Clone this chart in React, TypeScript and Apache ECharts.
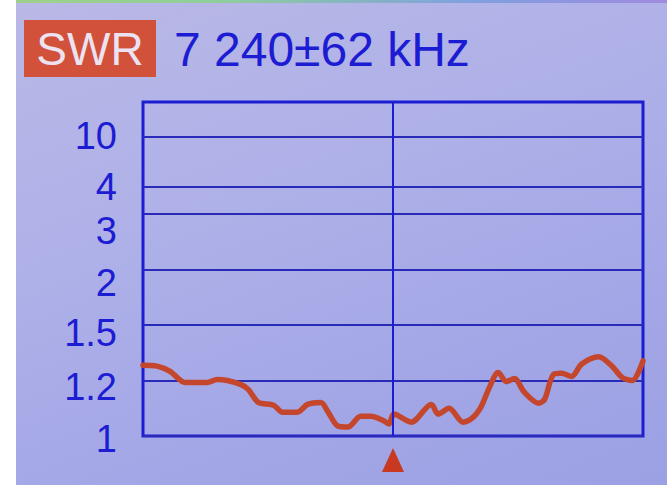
import React, { useEffect, useRef } from "react";
import * as echarts from "echarts";

// Frequency sweep: 7 240 ± 62 kHz
const centerKHz = 7240;
const spanKHz = 62;

// SWR scale of the analyzer (non-linear): tick labels and their level on the screen scale
const swrTicks = [1, 1.2, 1.5, 2, 3, 4, 10];
const swrLevels = [0, 1, 2, 3, 4, 4.5, 5.4];
const scaleTopLevel = 6.02;

// Measured curve
const freqKHz = [
  7178, 7181.5, 7184.7, 7188.5, 7193.9, 7196.4, 7198.9, 7202.2, 7204.1, 7206.6,
  7210.4, 7212.6, 7216.3, 7218.8, 7222.1, 7223.8, 7226.3, 7228.8, 7232.0, 7234.5,
  7237.8, 7239.0, 7240.2, 7244.5, 7249.5, 7251.2, 7253.9, 7257.4, 7259.9, 7261.9,
  7263.7, 7266.1, 7268.1, 7270.1, 7272.6, 7276.1, 7277.6, 7279.8, 7281.8, 7284.3,
  7286.8, 7291.0, 7294.3, 7296.8, 7299.3, 7302,
];
const swrValues = [
  1.283, 1.278, 1.25, 1.193, 1.193, 1.206, 1.2, 1.186, 1.168, 1.121,
  1.111, 1.086, 1.086, 1.114, 1.121, 1.089, 1.036, 1.032, 1.071, 1.071,
  1.054, 1.043, 1.079, 1.05, 1.114, 1.079, 1.1, 1.05, 1.068, 1.107,
  1.168, 1.244, 1.196, 1.211, 1.157, 1.118, 1.132, 1.233, 1.239, 1.222,
  1.289, 1.328, 1.278, 1.217, 1.2, 1.306,
];

const BLUE = "#1c1cd2";
const GRID_BLUE = "#2a2ab8";
const RED = "#c4472d";

// piecewise-linear SWR -> screen level
function swrToLevel(s: number): number {
  for (let i = 0; i < swrTicks.length - 1; i++) {
    if (s <= swrTicks[i + 1]) {
      const t = (s - swrTicks[i]) / (swrTicks[i + 1] - swrTicks[i]);
      return swrLevels[i] + t * (swrLevels[i + 1] - swrLevels[i]);
    }
  }
  return swrLevels[swrLevels.length - 1];
}

export default function App() {
  const ref = useRef<HTMLDivElement>(null);

  useEffect(() => {
    if (!ref.current) return;
    const chart = echarts.init(ref.current, undefined, { renderer: "svg" });
    const data = freqKHz.map((f, i) => [f, swrToLevel(swrValues[i])]);
    const font = '"Liberation Sans Narrow", "Liberation Sans", Arial, sans-serif';

    // the device draws its labels slightly below some grid lines
    const labelDrop = [3, 6, 8, 13, 17, 1, 0];
    const rich: Record<string, any> = {};
    labelDrop.forEach((d, i) => {
      rich["l" + i] = {
        color: BLUE,
        fontSize: 38,
        fontFamily: font,
        lineHeight: 30,
        padding: [2 * d, 0, 0, 0],
      };
    });

    chart.setOption({
      animation: false,
      backgroundColor: "transparent",
      grid: {
        left: 143,
        right: 24,
        top: 102,
        bottom: 49,
        show: true,
        borderColor: BLUE,
        borderWidth: 3,
        backgroundColor: "transparent",
      },
      xAxis: {
        type: "value",
        min: centerKHz - spanKHz,
        max: centerKHz + spanKHz,
        axisLine: { show: false },
        axisTick: { show: false },
        axisLabel: { show: false },
        splitLine: { show: false },
      },
      yAxis: {
        type: "value",
        min: 0,
        max: scaleTopLevel,
        axisLine: { show: false },
        axisTick: { show: false, customValues: swrLevels },
        axisLabel: {
          customValues: swrLevels,
          margin: 26,
          color: BLUE,
          fontSize: 38,
          fontFamily: font,
          rich,
          formatter: (v: number) => {
            const i = swrLevels.findIndex((l) => Math.abs(l - v) < 1e-6);
            return i >= 0 ? "{l" + i + "|" + swrTicks[i] + "}" : "";
          },
        },
        splitLine: { show: true, lineStyle: { color: GRID_BLUE, width: 2 } },
      },
      graphic: [
        {
          type: "rect",
          shape: { x: 24, y: 20, width: 132, height: 57 },
          style: { fill: "#d2513a" },
        },
        {
          type: "text",
          x: 90,
          y: 49,
          style: {
            text: "SWR",
            fill: "#ece2f2",
            fontSize: 46,
            fontFamily: font,
            align: "center",
            verticalAlign: "middle",
          },
        },
        {
          type: "text",
          x: 174,
          y: 49,
          style: {
            text: "7 240±62 kHz",
            fill: BLUE,
            fontSize: 48,
            fontFamily: font,
            align: "left",
            verticalAlign: "middle",
          },
        },
      ],
      series: [
        {
          type: "line",
          data,
          showSymbol: false,
          smooth: 0.3,
          lineStyle: { color: RED, width: 5.5, cap: "round", join: "round" },
          markLine: {
            silent: true,
            symbol: "none",
            label: { show: false },
            lineStyle: { color: BLUE, width: 2, type: "solid" },
            data: [{ xAxis: centerKHz }],
          },
          markPoint: {
            silent: true,
            symbol: "triangle",
            symbolSize: [22, 24],
            symbolOffset: [0, 24],
            itemStyle: { color: "#c8391f" },
            label: { show: false },
            data: [{ coord: [centerKHz, 0] }],
          },
        },
      ],
    });
    return () => chart.dispose();
  }, []);

  return (
    <div style={{ position: "fixed", left: 0, top: 0, width: 667, height: 485, background: "#ffffff" }}>
      <div
        style={{
          position: "absolute",
          left: 16,
          top: 0,
          right: 0,
          bottom: 0,
          background: "linear-gradient(160deg, #b9b8e6 0%, #aeb0e8 40%, #a2a6e6 75%, #9ca1e4 100%)",
        }}
      />
      <div
        style={{
          position: "absolute",
          left: 16,
          top: 0,
          right: 0,
          height: 3,
          background: "linear-gradient(90deg, #9fd08a 0%, #8fcf9a 30%, #7fa0e0 70%, #a08ae0 100%)",
        }}
      />
      <div ref={ref} style={{ position: "absolute", left: 0, top: 0, width: 667, height: 485 }} />
    </div>
  );
}
